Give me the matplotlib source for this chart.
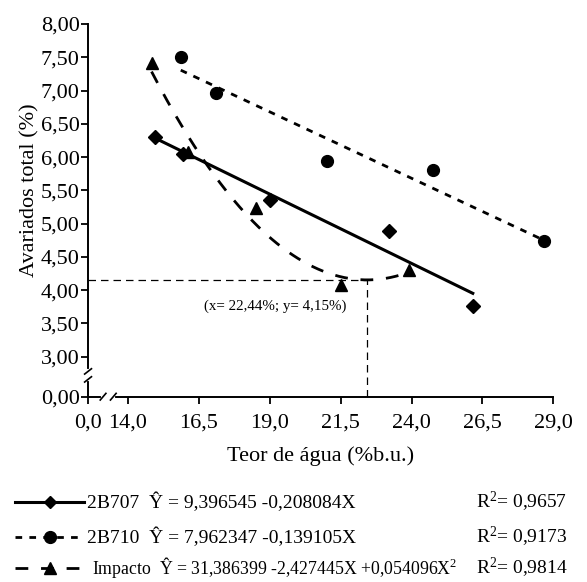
import numpy as np
import matplotlib
matplotlib.use("Agg")
import matplotlib.pyplot as plt
from matplotlib.lines import Line2D

plt.rcParams["font.family"] = ["Liberation Serif", "DejaVu Serif"]
plt.rcParams["mathtext.fontset"] = "custom"
plt.rcParams["mathtext.rm"] = "Liberation Serif"
plt.rcParams["mathtext.it"] = "Liberation Serif:italic"

# ── data ────────────────────────────────────────────────────────────────
x_2b707 = [14.95, 15.95, 19.02, 23.20, 26.16]
y_2b707 = [6.30, 6.04, 5.35, 4.89, 3.76]
x_2b710 = [15.86, 17.12, 21.03, 24.74, 28.66]
y_2b710 = [7.51, 6.97, 5.94, 5.80, 4.74]
x_imp = [14.83, 16.12, 18.51, 21.50, 23.90]
y_imp = [7.42, 6.07, 5.23, 4.08, 4.31]

# fitted curves (2B710 line read from the drawn line, not the printed eq.)
coef_2b707 = [9.396545, -0.208084]
coef_2b710 = [10.47, -0.1995]
coef_imp = [31.386399, -2.427445, 0.054096]

x_min_imp = 22.44
y_min_imp = 4.15

x_ticks = [14.0, 16.5, 19.0, 21.5, 24.0, 26.5, 29.0]
y_ticks = [3.0, 3.5, 4.0, 4.5, 5.0, 5.5, 6.0, 6.5, 7.0, 7.5, 8.0]

eq_labels = ["2B707  Ŷ = 9,396545 -0,208084X",
             "2B710  Ŷ = 7,962347 -0,139105X",
             "Impacto  Ŷ = 31,386399 -2,427445X +0,054096X$^{2}$"]
r2_labels = ["R$^{2}$= 0,9657", "R$^{2}$= 0,9173", "R$^{2}$= 0,9814"]

# axis origin stand-ins for the broken axes
X0 = 12.59
Y0 = 2.40


def poly(coef, x):
    x = np.asarray(x)
    return sum(c * x ** i for i, c in enumerate(coef))


fig = plt.figure(figsize=(5.87, 5.82), dpi=100)
ax = fig.add_axes([0.150, 0.3184, 0.7926, 0.6404])

sol = dict(color="black", lw=2.2, linestyle="-")
dot = dict(color="black", lw=2.0, linestyle=(0, (2.4, 2.6)))
dsh = dict(color="black", lw=2.0, linestyle=(0, (4.6, 4.6)))

xx = np.linspace(min(x_2b707), max(x_2b707), 100)
ax.plot(xx, poly(coef_2b707, xx), **sol)
xx = np.linspace(min(x_2b710), max(x_2b710), 100)
ax.plot(xx, poly(coef_2b710, xx), **dot)
xx = np.linspace(min(x_imp), max(x_imp), 200)
ax.plot(xx, poly(coef_imp, xx), **dsh)

ax.plot(x_2b707, y_2b707, "D", color="black", ms=7, zorder=5)
ax.plot(x_2b710, y_2b710, "o", color="black", ms=8.5, zorder=5)
ax.plot(x_imp, y_imp, "^", color="black", ms=9, zorder=5)

# guide lines to the minimum of the quadratic
ax.plot([X0, x_min_imp], [y_min_imp, y_min_imp], color="black", lw=0.9,
        linestyle=(0, (6, 4)))
ax.plot([x_min_imp, x_min_imp], [Y0, y_min_imp], color="black", lw=0.9,
        linestyle=(0, (6, 4)))
ax.text(19.2, 3.76, "(x= 22,44%; y= 4,15%)", ha="center", va="center",
        fontsize=10.8)

ax.set_xlim(X0, 29.0)
ax.set_ylim(Y0, 8.0)
ax.set_xticks([X0] + x_ticks)
ax.set_xticklabels(["0,0"] + [f"{v:.1f}".replace(".", ",") for v in x_ticks])
ax.set_yticks([Y0] + y_ticks)
ax.set_yticklabels(["0,00"] + [f"{v:.2f}".replace(".", ",") for v in y_ticks])
ax.tick_params(direction="out", length=5, width=1.3, labelsize=16,
               pad=1, colors="black")
ax.tick_params(axis="x", pad=7)
for s in ["top", "right"]:
    ax.spines[s].set_visible(False)
for s in ["left", "bottom"]:
    ax.spines[s].set_linewidth(1.4)

ax.set_xlabel("Teor de água (%b.u.)", fontsize=16, labelpad=10)
ax.set_ylabel("Avariados total (%)", fontsize=16)
ax.yaxis.set_label_coords(-0.105, 0.554)

# axis breaks
bx = 13.3
ax.plot([bx - 0.18, bx + 0.18], [Y0, Y0], color="white", lw=3,
        clip_on=False, zorder=6)
for dx in (-0.18, 0.18):
    ax.plot([bx + dx - 0.1, bx + dx + 0.1], [Y0 - 0.05, Y0 + 0.05],
            color="black", lw=1.2, clip_on=False, zorder=7)
by = 2.72
ax.plot([X0, X0], [by - 0.06, by + 0.06], color="white", lw=3,
        clip_on=False, zorder=6)
for dy in (-0.06, 0.06):
    ax.plot([X0 - 0.12, X0 + 0.12], [by + dy - 0.04, by + dy + 0.04],
            color="black", lw=1.2, clip_on=False, zorder=7)

# legend drawn below the axes
rows_y = [1 - 502 / 582, 1 - 537 / 582, 1 - 568 / 582]
styles = [(sol, "D", 6), (dot, "o", 8.5), (dsh, "^", 9)]
eq_sizes = [14, 14, 12.8]
W, H = 587.0, 582.0
for i, (st, mk, ms) in enumerate(styles):
    y = rows_y[i]
    fig.add_artist(Line2D([15 / W, 84 / W], [y, y], transform=fig.transFigure,
                          **st))
    fig.add_artist(Line2D([50 / W], [y], transform=fig.transFigure,
                          marker=mk, ms=ms, color="black", linestyle="none"))
    fig.text((87 if i < 2 else 92) / W, y, eq_labels[i], fontsize=eq_sizes[i],
             va="center", ha="left")
    fig.text(476 / W, y, r2_labels[i], fontsize=14, va="center", ha="left")

fig.savefig("out.png", dpi=100, facecolor="white")
